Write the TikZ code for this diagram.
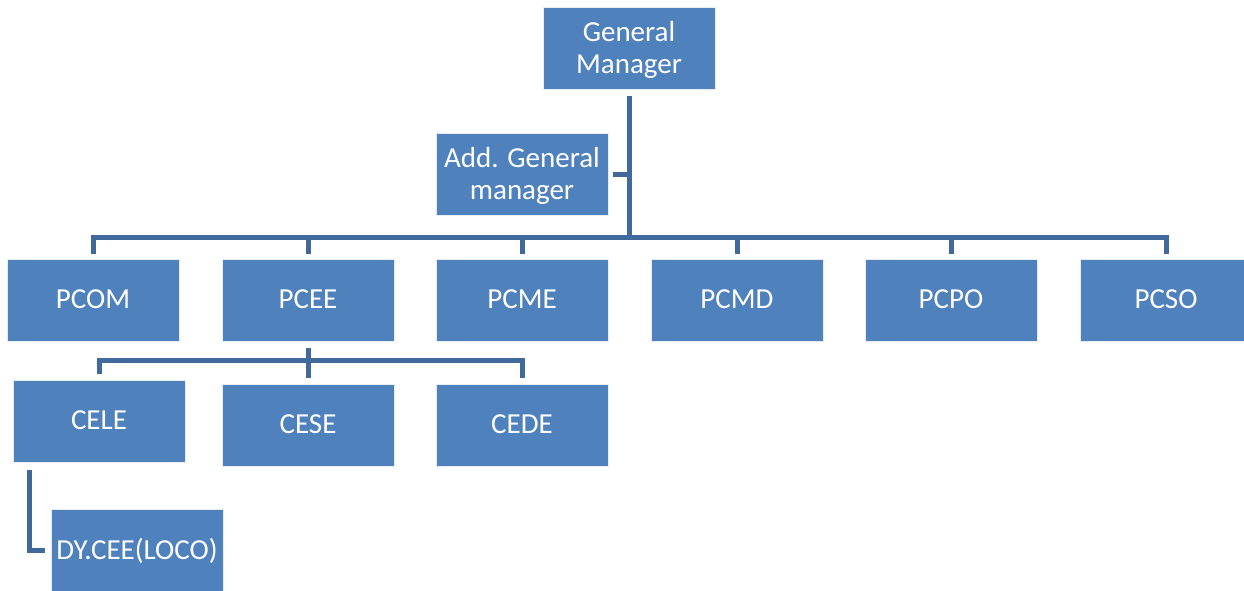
\documentclass[tikz,border=0pt]{standalone}
\usepackage{fontspec}
\setmainfont{Carlito}
\usepackage{tikz}
\usetikzlibrary{positioning,calc}
\definecolor{boxblue}{HTML}{4F81BD}
\definecolor{linkblue}{HTML}{41699C}
\tikzset{
post/.style={
  rectangle,
  fill=boxblue,
  draw=white!85!boxblue,
  line width=0.8pt,
  text=white,
  minimum width=172pt,
  minimum height=82pt,
  inner sep=0pt,
  text depth=2pt,
  align=center,
  font=\fontsize{29}{32}\selectfont
},
link/.style={draw=linkblue, line width=5pt, line join=miter}
}

\begin{document}
\begin{tikzpicture}[x=1pt,y=-1pt]
        \useasboundingbox (0,0) rectangle (1244,590);
        % top of the chart
        \node[post] (gm)  at (629,48)  {General\\Manager};
        \node[post] (agm) at (522,174) {Add. General\\manager};

        % principal heads
        \node[post] (pcom) at (93,300)   {PCOM};
        \node[post] (pcee) at (308,300)  {PCEE};
        \node[post] (pcme) at (522,300)  {PCME};
        \node[post] (pcmd) at (737,300)  {PCMD};
        \node[post] (pcpo) at (951,300)  {PCPO};
        \node[post] (pcso) at (1166,300) {PCSO};

        % under PCEE
        \node[post] (cele) at (99,421)  {CELE};
        \node[post] (cese) at (308,425) {CESE};
        \node[post] (cede) at (522,425) {CEDE};
        \node[post] (dy)   at (137,550) {DY.CEE(LOCO)};

        \coordinate (bus)  at (629,237);
        \coordinate (sub)  at (308,360);
        \coordinate (dytop) at (29,463);

        \begin{scope}[link]
        \draw[shorten <=7pt] (gm.south) -- (bus);
        \draw[shorten <=5pt] (agm.east) -- (agm.east -| gm.south);

        \draw[shorten >=5pt] (bus) -| (pcom.north);
        \draw[shorten >=5pt] (bus) -| (pcee.north);
        \draw[shorten >=5pt] (bus) -| (pcme.north);
        \draw[shorten >=5pt] (bus) -| (pcmd.north);
        \draw[shorten >=5pt] (bus) -| (pcpo.north);
        \draw[shorten >=5pt] (bus) -| (pcso.north);

        \draw[shorten <=7pt,shorten >=6pt] (pcee.south) -- (cese.north);
        \draw[shorten >=6pt] (sub) -| (cele.north);
        \draw[shorten >=6pt] (sub) -| (cede.north);

        \draw[shorten <=7pt,shorten >=6pt] (dytop) |- (dy.west);
        \end{scope}
        \end{tikzpicture}
\end{document}
